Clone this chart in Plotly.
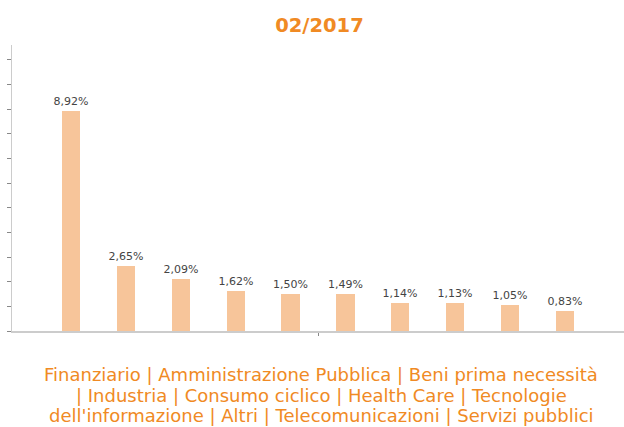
import plotly.graph_objects as go

categories = ["Finanziario", "Amministrazione Pubblica", "Beni prima necessità", "Industria",
              "Consumo ciclico", "Health Care", "Tecnologie dell'informazione", "Altri",
              "Telecomunicazioni", "Servizi pubblici"]
values = [8.92, 2.65, 2.09, 1.62, 1.50, 1.49, 1.14, 1.13, 1.05, 0.83]
labels = ["8,92%", "2,65%", "2,09%", "1,62%", "1,50%", "1,49%", "1,14%", "1,13%", "1,05%", "0,83%"]
y_ticks = list(range(0, 12))
bottom_lines = ["Finanziario | Amministrazione Pubblica | Beni prima necessità",
                "| Industria | Consumo ciclico | Health Care | Tecnologie",
                "dell'informazione | Altri | Telecomunicazioni | Servizi pubblici"]

x = list(range(len(categories)))

FONT = "DejaVu Sans, Verdana, sans-serif"
ORANGE = "#F08A24"

fig = go.Figure()
fig.add_trace(go.Bar(
    x=x, y=values, width=0.336,
    marker=dict(color="#F7C59A", line=dict(width=0)),
    text=labels, textposition="outside", cliponaxis=False, constraintext="none",
    textfont=dict(family=FONT, size=11, color="#444444"),
    hoverinfo="skip",
))

# plot area spans y = 45..331 px; place caption lines at fixed pixel rows
line_rows_px = [375, 395.5, 416]
annotations = []
for txt, py in zip(bottom_lines, line_rows_px):
    annotations.append(dict(text=txt, xref="paper", yref="paper",
                            x=(321 - 12) / 612, y=(331 - py) / 286,
                            xanchor="center", yanchor="middle", showarrow=False,
                            font=dict(family=FONT, size=18, color=ORANGE)))

fig.update_layout(
    width=624, height=427,
    margin=dict(l=12, r=0, t=45, b=96),
    paper_bgcolor="white", plot_bgcolor="white",
    showlegend=False,
    title=dict(text="<b>02/2017</b>", x=0.512, xanchor="center", y=0.94, yanchor="middle",
               font=dict(family=FONT, size=19.5, color=ORANGE)),
    xaxis=dict(range=[-1.08, 10.08], showgrid=False, zeroline=False,
               showline=True, linecolor="#cccccc", linewidth=2,
               tickvals=[4.5], ticktext=[""], ticks="outside", ticklen=3,
               tickcolor="#888888", tickwidth=1, fixedrange=True),
    yaxis=dict(range=[0, 11.6], showgrid=False, zeroline=False,
               showline=True, linecolor="#cccccc", linewidth=1,
               tickvals=y_ticks, ticktext=[""] * len(y_ticks), ticks="outside", ticklen=4,
               tickcolor="#888888", tickwidth=1, fixedrange=True),
    bargap=0,
    annotations=annotations,
)

fig.write_html("out.html", config={"displayModeBar": False},
               post_script="document.body.style.margin='0';")
